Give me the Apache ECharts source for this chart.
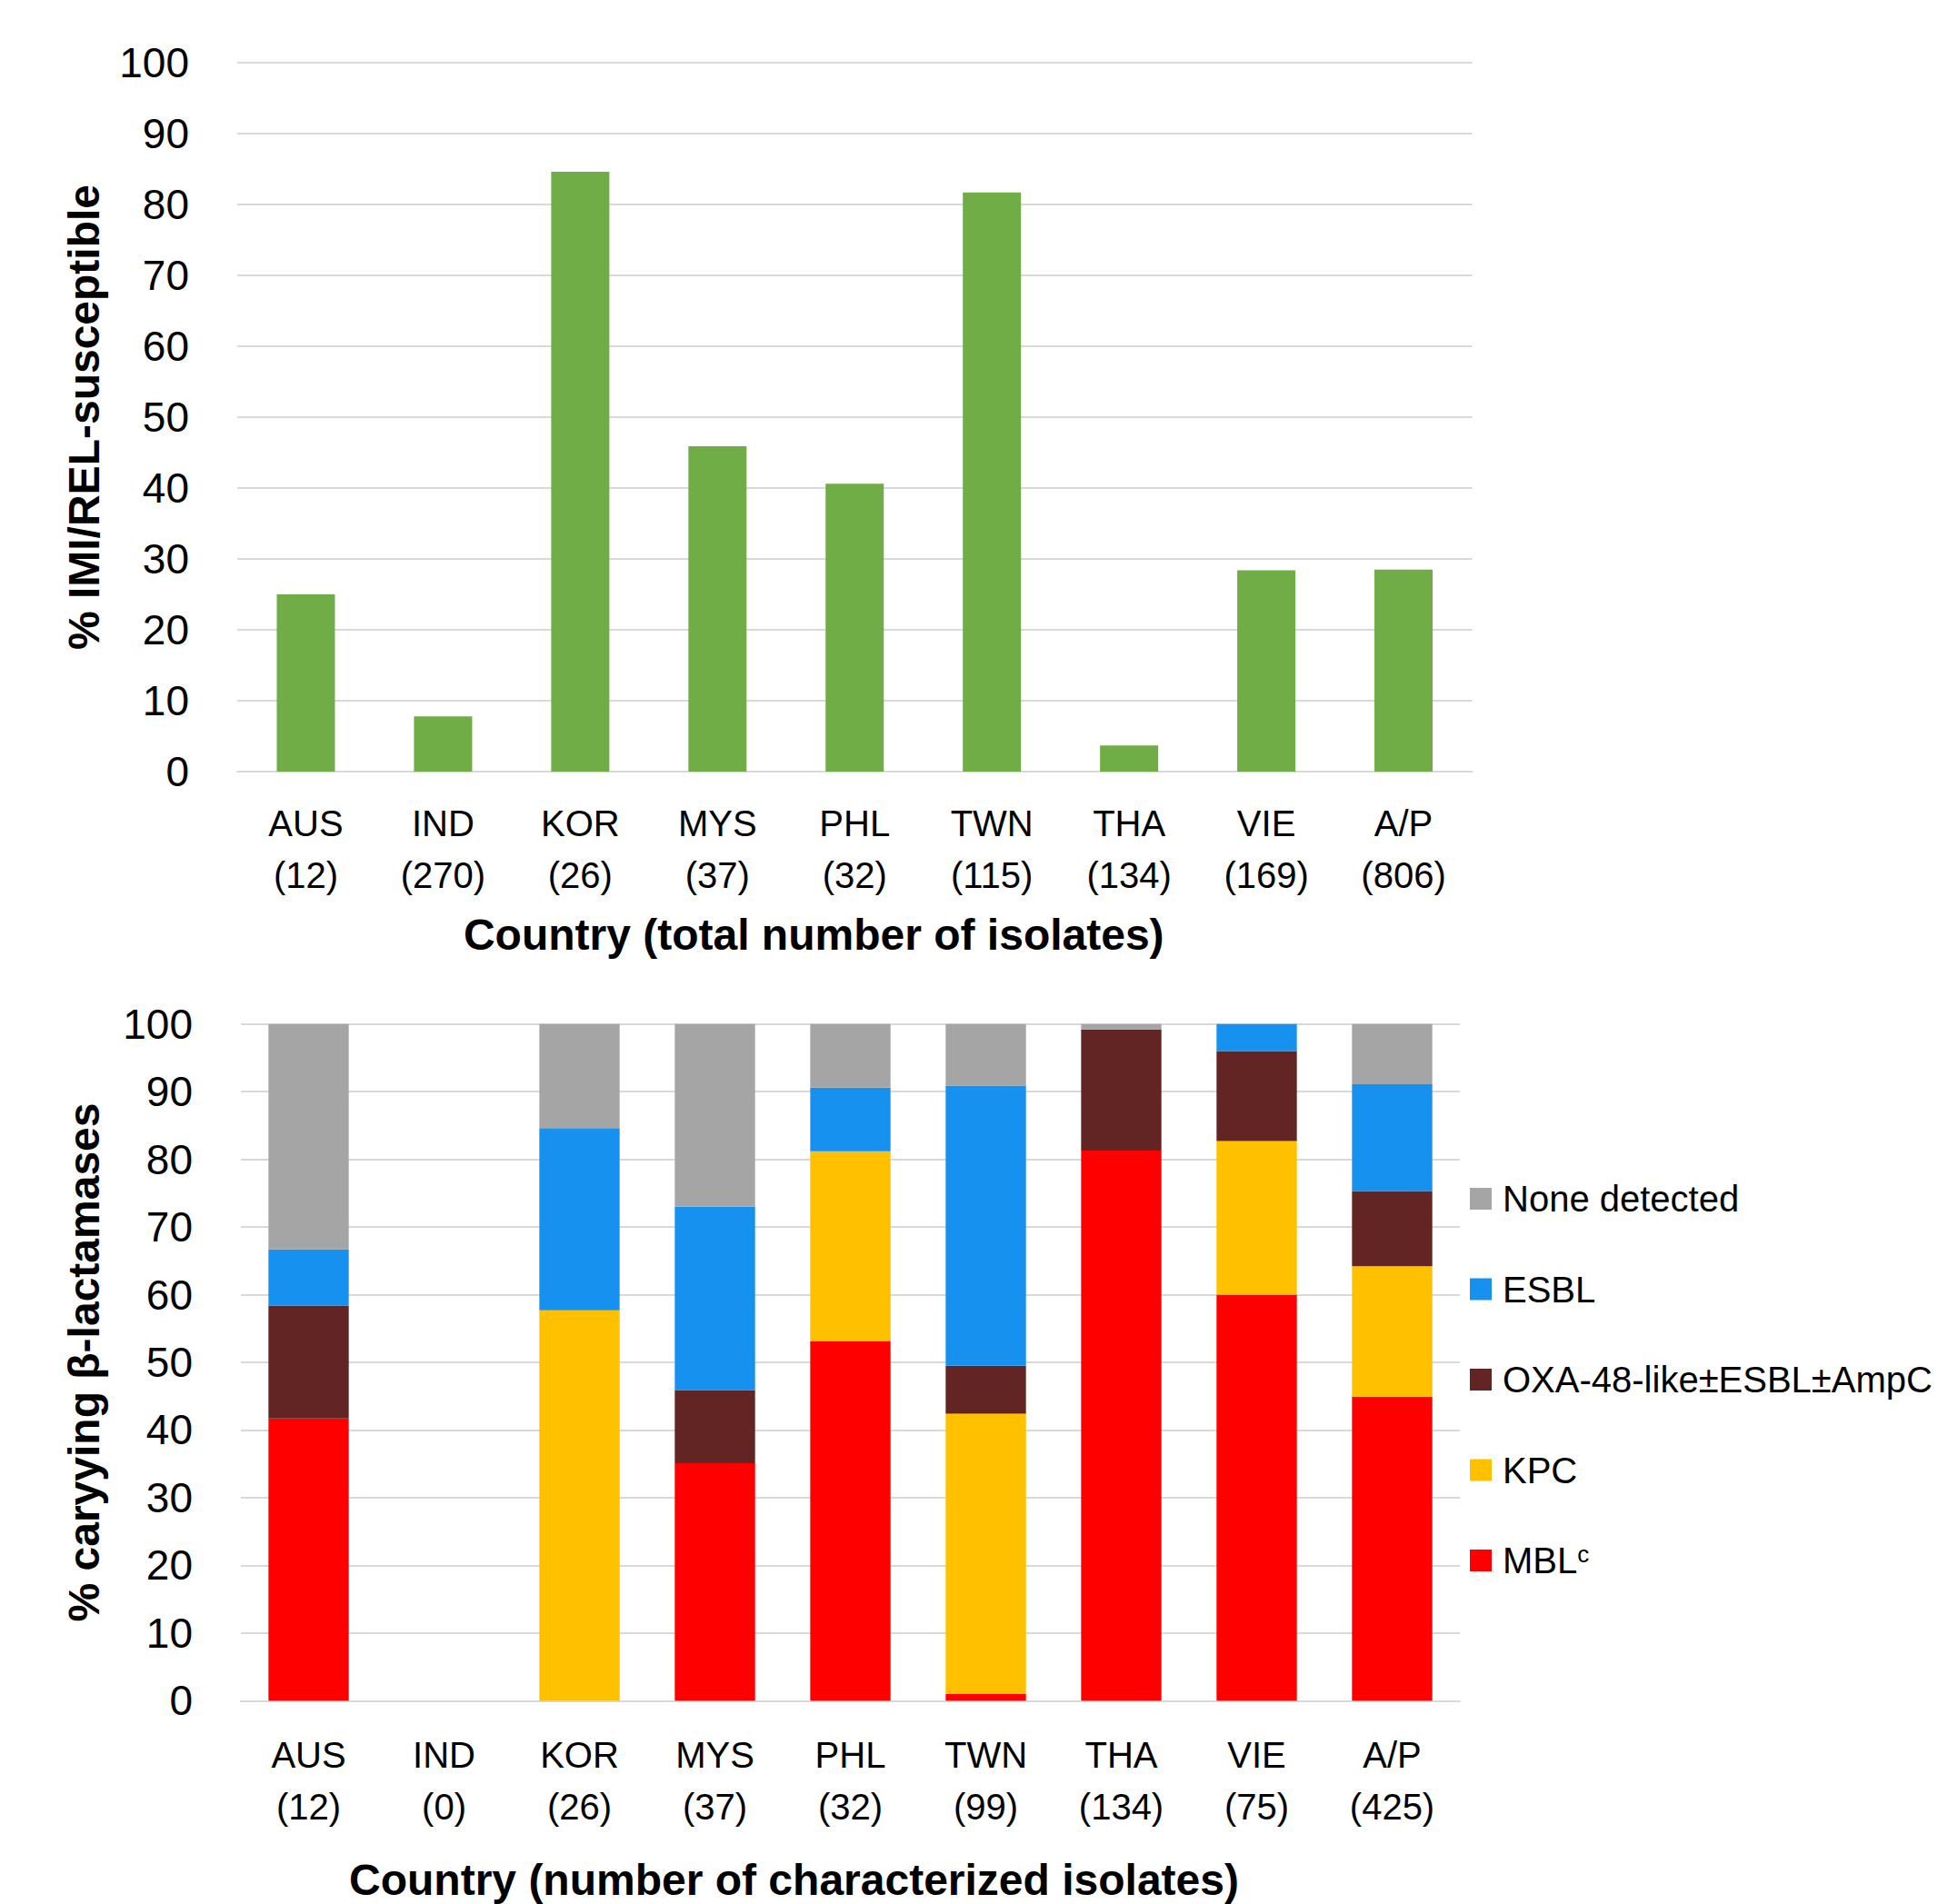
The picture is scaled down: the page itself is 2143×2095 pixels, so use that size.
<!DOCTYPE html>
<html>
<head>
<meta charset="utf-8">
<script src="https://cdn.jsdelivr.net/npm/echarts@6/dist/echarts.min.js"></script>
<style>
html, body { margin: 0; padding: 0; background: #ffffff; }
#chart { width: 2143px; height: 2095px; }
</style>
</head>
<body>
<div id="chart"></div>
<script>
// ---- data ----
var countries = ['AUS', 'IND', 'KOR', 'MYS', 'PHL', 'TWN', 'THA', 'VIE', 'A/P'];
var totalIsolates = [12, 270, 26, 37, 32, 115, 134, 169, 806];
var characterizedIsolates = [12, 0, 26, 37, 32, 99, 134, 75, 425];
var susceptiblePct = [25.0, 7.8, 84.6, 45.9, 40.6, 81.7, 3.7, 28.4, 28.5];

var mblPct  = [41.7, 0, 0, 35.1, 53.1, 1.0, 81.3, 60.0, 44.9];
var kpcPct  = [0, 0, 57.7, 0, 28.1, 41.4, 0, 22.7, 19.3];
var oxaPct  = [16.7, 0, 0, 10.8, 0, 7.1, 17.9, 13.3, 11.1];
var esblPct = [8.3, 0, 26.9, 27.1, 9.4, 41.4, 0, 4.0, 15.8];
var nonePct = [33.3, 0, 15.4, 27.0, 9.4, 9.1, 0.8, 0, 8.9];

var yTicks = [0, 10, 20, 30, 40, 50, 60, 70, 80, 90, 100];
var legendOrder = ['None detected', 'ESBL', 'OXA-48-like±ESBL±AmpC', 'KPC', 'MBL'];

// ---- chart ----
var FONT = "'Liberation Sans Narrow', 'Arial Narrow', 'Liberation Sans', Arial, sans-serif";
var GRID_COLOR = '#d9d9d9';

var topCats = countries.map(function (c, i) { return c + '\n(' + totalIsolates[i] + ')'; });
var botCats = countries.map(function (c, i) { return c + '\n(' + characterizedIsolates[i] + ')'; });

function yAxisCfg(gridIndex, name, gap) {
  return {
    type: 'value', gridIndex: gridIndex,
    min: yTicks[0], max: yTicks[yTicks.length - 1], interval: yTicks[1] - yTicks[0],
    name: name, nameLocation: 'middle', nameRotate: 90, nameGap: gap, nameMoveOverlap: false,
    nameTextStyle: { fontFamily: FONT, fontWeight: 'bold', fontSize: 48, lineHeight: 48, color: '#000' },
    axisLine: { show: false }, axisTick: { show: false },
    axisLabel: { fontFamily: FONT, fontSize: 46, color: '#000', margin: 53 },
    splitLine: { show: true, lineStyle: { color: GRID_COLOR, width: 2 } }
  };
}

function xAxisCfg(gridIndex, cats, name, gap, margin, shift) {
  return {
    type: 'category', gridIndex: gridIndex, data: cats,
    name: name, nameLocation: 'middle', nameGap: gap, nameMoveOverlap: false,
    nameTextStyle: { fontFamily: FONT, fontWeight: 'bold', fontSize: 48, lineHeight: 48, color: '#000', padding: [0, shift, 0, 0] },
    axisLine: { show: true, lineStyle: { color: GRID_COLOR, width: 2 } },
    axisTick: { show: false },
    axisLabel: { interval: 0, fontFamily: FONT, fontSize: 40, lineHeight: 57, color: '#000', margin: margin }
  };
}

function stackSeries(name, data, color) {
  return {
    name: name, type: 'bar', stack: 'beta', xAxisIndex: 1, yAxisIndex: 1,
    barWidth: '59.3%', data: data, itemStyle: { color: color }, animation: false
  };
}

var chart = echarts.init(document.getElementById('chart'), null, { renderer: 'svg' });
chart.setOption({
  backgroundColor: '#ffffff',
  animation: false,
  grid: [
    { left: 261, top: 69, width: 1358.5, height: 780 },
    { left: 265, top: 1126.7, width: 1341, height: 744.6 }
  ],
  xAxis: [
    xAxisCfg(0, topCats, 'Country (total number of isolates)', 155, 28, 90),
    xAxisCfg(1, botCats, 'Country (number of characterized isolates)', 173, 31, 124)
  ],
  yAxis: [
    yAxisCfg(0, '% IMI/REL-susceptible', 145),
    yAxisCfg(1, '% caryying β-lactamases', 149)
  ],
  legend: {
    data: legendOrder,
    orient: 'vertical', left: 1617, top: 1299, padding: 0,
    itemWidth: 24, itemHeight: 24, itemGap: 59.5, icon: 'rect',
    textStyle: {
      fontFamily: FONT, fontSize: 40, lineHeight: 40, color: '#000', padding: [0, 0, 0, 7],
      rich: { sup: { fontFamily: FONT, fontSize: 26, verticalAlign: 'top', lineHeight: 40, color: '#000' } }
    },
    formatter: function (n) { return n === 'MBL' ? 'MBL{sup|c}' : n; },
    selectedMode: false
  },
  series: [
    {
      name: 'IMI/REL-susceptible', type: 'bar', xAxisIndex: 0, yAxisIndex: 0,
      barWidth: '42.4%', data: susceptiblePct, itemStyle: { color: '#70AD47' }, animation: false
    },
    stackSeries('MBL', mblPct, '#FF0000'),
    stackSeries('KPC', kpcPct, '#FFC000'),
    stackSeries('OXA-48-like±ESBL±AmpC', oxaPct, '#632523'),
    stackSeries('ESBL', esblPct, '#1791F0'),
    stackSeries('None detected', nonePct, '#A5A5A5')
  ]
});
</script>
</body>
</html>
